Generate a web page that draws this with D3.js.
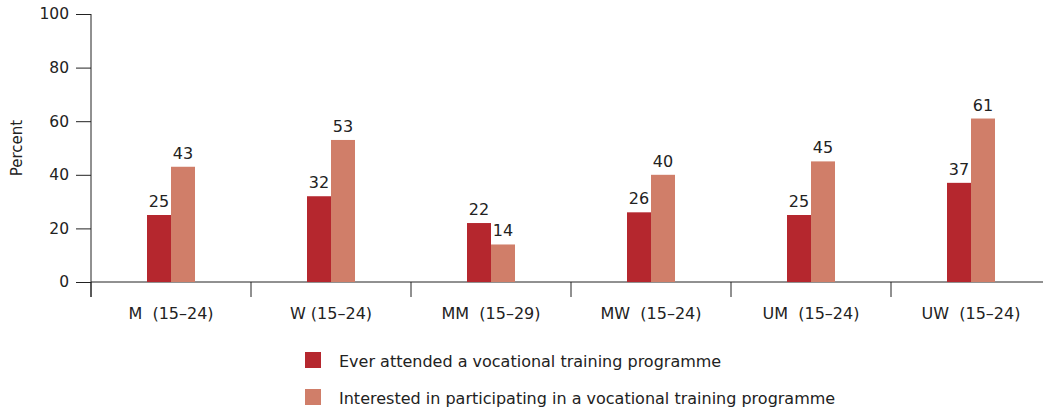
<!DOCTYPE html>
<html>
<head>
<meta charset="utf-8">
<script src="https://cdn.jsdelivr.net/npm/d3@7"></script>
<style>
  body { margin: 0; background: #fff; }
  svg { display: block; font-family: "DejaVu Sans", Verdana, sans-serif; }
</style>
</head>
<body>
<div id="svg-container"></div>
<script>

const categories = ["M  (15\u201324)", "W (15\u201324)", "MM  (15\u201329)", "MW  (15\u201324)", "UM  (15\u201324)", "UW  (15\u201324)"];
const attended = [25, 32, 22, 26, 25, 37];
const interested = [43, 53, 14, 40, 45, 61];
const seriesNames = ["Ever attended a vocational training programme", "Interested in participating in a vocational training programme"];
const seriesColors = ["#b5272e", "#d07e69"];
const yTicks = [0, 20, 40, 60, 80, 100];

const buildChart = () => {

    let [width, height] = [1043, 408];
    let font = "DejaVu Sans, Verdana, sans-serif";
    let svg = d3.select("#svg-container")
        .append("svg")
        .attr("width", width)
        .attr("height", height);

    const x = d3.scaleBand()
        .domain(categories)
        .range([91, 1051]);

    const xSub = d3.scaleBand()
        .domain([0, 1])
        .range([x.bandwidth() / 2 - 24, x.bandwidth() / 2 + 24]);

    const y = d3.scaleLinear()
        .domain([0, 100])
        .range([282, 14]);

    // y axis
    let yAxis = svg.append("g")
        .attr("transform", "translate(91,0)")
        .call(d3.axisLeft(y).tickValues(yTicks).tickSize(15).tickPadding(7));
    yAxis.select(".domain").attr("d", `M0,${y(100)}V297`).attr("stroke", "#222");
    yAxis.selectAll(".tick line").attr("stroke", "#222");
    yAxis.selectAll("text")
        .attr("font-size", 15.5)
        .attr("fill", "#222")
        .attr("font-family", font);

    svg.append("text")
        .attr("transform", "translate(22,148) rotate(-90)")
        .attr("text-anchor", "middle")
        .attr("font-size", 15)
        .attr("fill", "#222")
        .text("Percent");

    // x axis
    let xAxis = svg.append("g")
        .attr("transform", `translate(0,${y(0)})`);
    xAxis.append("line")
        .attr("x1", 91).attr("x2", width)
        .attr("stroke", "#222");
    xAxis.selectAll(".xtick")
        .data(categories)
        .enter()
        .append("line")
        .attr("x1", d => x(d)).attr("x2", d => x(d))
        .attr("y1", 0).attr("y2", 15)
        .attr("stroke", "#222");
    xAxis.selectAll(".xlabel")
        .data(categories)
        .enter()
        .append("text")
        .attr("x", d => x(d) + x.bandwidth() / 2)
        .attr("y", 31)
        .attr("dy", "0.35em")
        .attr("text-anchor", "middle")
        .attr("font-size", 16)
        .attr("fill", "#222")
        .style("white-space", "pre")
        .text(d => d);

    // bars
    let rows = categories.map((c, i) => ({cat: c, values: [attended[i], interested[i]]}));
    let group = svg.selectAll(".group")
        .data(rows)
        .enter()
        .append("g")
        .attr("transform", d => `translate(${x(d.cat)},0)`);

    group.selectAll("rect")
        .data(d => d.values)
        .enter()
        .append("rect")
        .attr("x", (d, i) => xSub(i))
        .attr("width", xSub.bandwidth())
        .attr("y", d => y(d))
        .attr("height", d => y(0) - y(d))
        .attr("fill", (d, i) => seriesColors[i]);

    group.selectAll(".val")
        .data(d => d.values)
        .enter()
        .append("text")
        .attr("x", (d, i) => xSub(i) + xSub.bandwidth() / 2)
        .attr("y", d => y(d) - 8)
        .attr("text-anchor", "middle")
        .attr("font-size", 16)
        .attr("fill", "#222")
        .text(d => d);

    // legend
    let legend = svg.selectAll(".legend")
        .data(seriesNames)
        .enter()
        .append("g")
        .attr("transform", (d, i) => `translate(305,${352 + i * 37})`);
    legend.append("rect")
        .attr("width", 16).attr("height", 16)
        .attr("fill", (d, i) => seriesColors[i]);
    legend.append("text")
        .attr("x", 34).attr("y", 9)
        .attr("dy", "0.35em")
        .attr("font-size", 16)
        .attr("fill", "#222")
        .text(d => d);
};

buildChart();
</script>
</body>
</html>
